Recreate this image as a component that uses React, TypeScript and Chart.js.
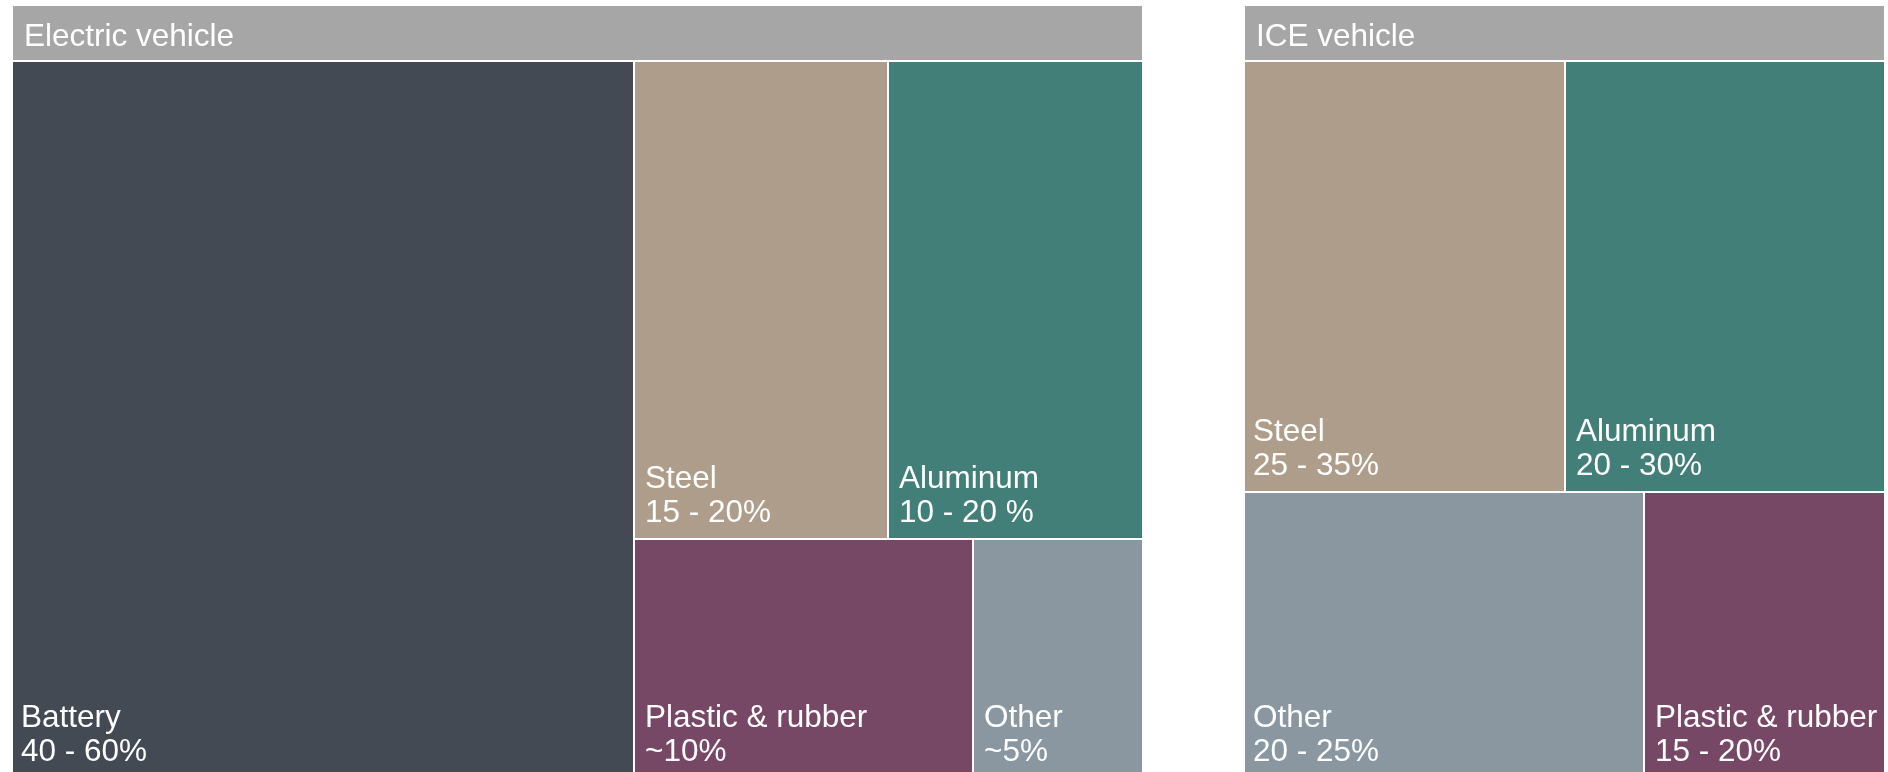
import React, { useEffect, useRef } from 'react';
import { Chart, registerables } from 'chart.js';

Chart.register(...registerables);

// ---------- data ----------
const panelTitles = ['Electric vehicle', 'ICE vehicle'];

const evCategories = ['Battery', 'Steel', 'Aluminum', 'Plastic & rubber', 'Other'];
const evShares = [55, 15, 15, 10, 5];
const evRanges = ['40 - 60%', '15 - 20%', '10 - 20 %', '~10%', '~5%'];

const iceCategories = ['Steel', 'Aluminum', 'Other', 'Plastic & rubber'];
const iceShares = [30, 30, 25, 15];
const iceRanges = ['25 - 35%', '20 - 30%', '20 - 25%', '15 - 20%'];

const categoryColors: Record<string, string> = {
  Battery: '#434A54',
  Steel: '#AE9D8B',
  Aluminum: '#417F78',
  'Plastic & rubber': '#774866',
  Other: '#8A96A0',
};
const headerColor = '#A6A6A6';
const FONT = '"Liberation Sans", Arial, Helvetica, sans-serif';
const FONT_SIZE = 31.5;

// ---------- squarified treemap layout (in normalized units) ----------
type Rect = { x: number; y: number; w: number; h: number };

function squarify(values: number[], W: number, H: number): Rect[] {
  const total = values.reduce((a, b) => a + b, 0);
  const scale = (W * H) / total;
  const areas = values.map((v) => v * scale);
  const order = values.map((_, i) => i).sort((a, b) => values[b] - values[a] || a - b);
  const rects: Rect[] = new Array(values.length);
  let x = 0, y = 0, w = W, h = H;

  const worst = (row: number[], side: number) => {
    const s = row.reduce((a, i) => a + areas[i], 0);
    let mx = -Infinity, mn = Infinity;
    row.forEach((i) => { mx = Math.max(mx, areas[i]); mn = Math.min(mn, areas[i]); });
    return Math.max((side * side * mx) / (s * s), (s * s) / (side * side * mn));
  };
  const layoutRow = (row: number[]) => {
    const s = row.reduce((a, i) => a + areas[i], 0);
    if (w >= h) {
      const cw = s / h;
      let cy = y;
      row.forEach((i) => { const rh = areas[i] / cw; rects[i] = { x, y: cy, w: cw, h: rh }; cy += rh; });
      x += cw; w -= cw;
    } else {
      const rh = s / w;
      let cx = x;
      row.forEach((i) => { const rw = areas[i] / rh; rects[i] = { x: cx, y, w: rw, h: rh }; cx += rw; });
      y += rh; h -= rh;
    }
  };

  let row: number[] = [];
  let k = 0;
  while (k < order.length) {
    const side = Math.min(w, h);
    const idx = order[k];
    if (row.length === 0 || worst([...row, idx], side) <= worst(row, side)) {
      row.push(idx);
      k++;
    } else {
      layoutRow(row);
      row = [];
    }
  }
  if (row.length) layoutRow(row);
  return rects.map((r) => ({ x: r.x / W, y: r.y / H, w: r.w / W, h: r.h / H }));
}

// ---------- plugin drawing treemap cells via the chart's scales ----------
const treemapPlugin = {
  id: 'treemapCells',
  beforeDraw(chart: any) {
    const ctx = chart.ctx;
    const ds = chart.data.datasets[0] as any;
    ctx.save();
    ctx.fillStyle = headerColor;
    ctx.fillRect(0, 0, chart.width, chart.chartArea.top - 2);
    ctx.fillStyle = '#ffffff';
    ctx.font = `${FONT_SIZE}px ${FONT}`;
    ctx.textBaseline = 'alphabetic';
    ctx.textAlign = 'left';
    ctx.fillText(ds.panelTitle, 11, 40);
    ctx.restore();
  },
  afterDatasetsDraw(chart: any) {
    const ctx = chart.ctx;
    const ds = chart.data.datasets[0] as any;
    const area = chart.chartArea;
    const xs = chart.scales.x;
    const ys = chart.scales.y;
    const rects = squarify(ds.shares, area.right - area.left, area.bottom - area.top);
    ctx.save();
    rects.forEach((r: Rect, i: number) => {
      const l = Math.round(xs.getPixelForValue(r.x));
      const rt = Math.round(xs.getPixelForValue(r.x + r.w));
      const t = Math.round(ys.getPixelForValue(r.y));
      const b = Math.round(ys.getPixelForValue(r.y + r.h));
      const il = r.x > 1e-6 ? 1 : 0;
      const ir = r.x + r.w < 1 - 1e-6 ? 1 : 0;
      const it = r.y > 1e-6 ? 1 : 0;
      const ib = r.y + r.h < 1 - 1e-6 ? 1 : 0;
      ctx.fillStyle = categoryColors[ds.categories[i]];
      ctx.fillRect(l + il, t + it, rt - l - il - ir, b - t - it - ib);

      const pad = il ? 11 : 8;
      const avail = rt - l - pad - 6;
      let size = FONT_SIZE;
      ctx.font = `${size}px ${FONT}`;
      const wMax = Math.max(ctx.measureText(ds.categories[i]).width, ctx.measureText(ds.ranges[i]).width);
      if (wMax > avail) {
        size = (size * avail) / wMax;
        ctx.font = `${size}px ${FONT}`;
      }
      ctx.fillStyle = '#ffffff';
      ctx.textAlign = 'left';
      ctx.textBaseline = 'alphabetic';
      ctx.fillText(ds.categories[i], l + pad, b - 51);
      ctx.fillText(ds.ranges[i], l + pad, b - 17);
    });
    ctx.restore();
  },
};

function TreemapPanel(props: {
  title: string; categories: string[]; shares: number[]; ranges: string[];
  left: number; width: number;
}) {
  const ref = useRef<HTMLCanvasElement | null>(null);
  useEffect(() => {
    if (!ref.current) return;
    const chart = new Chart(ref.current, {
      type: 'scatter',
      data: {
        datasets: [
          {
            data: [],
            pointRadius: 0,
            panelTitle: props.title,
            categories: props.categories,
            shares: props.shares,
            ranges: props.ranges,
          } as any,
        ],
      },
      options: {
        responsive: false,
        maintainAspectRatio: false,
        animation: false,
        devicePixelRatio: 1,
        layout: { padding: { top: 56, left: 0, right: 0, bottom: 0 } },
        scales: {
          x: { type: 'linear', min: 0, max: 1, display: false },
          y: { type: 'linear', min: 0, max: 1, reverse: true, display: false },
        },
        plugins: {
          legend: { display: false },
          tooltip: { enabled: false },
          title: { display: false },
        },
      },
      plugins: [treemapPlugin],
    });
    return () => chart.destroy();
  }, []);
  return (
    <canvas
      ref={ref}
      width={props.width}
      height={772}
      style={{ position: 'absolute', left: props.left, top: 6, width: props.width, height: 772, display: 'block' }}
    />
  );
}

export default function App() {
  return (
    <div style={{ position: 'absolute', left: 0, top: 0, width: 1888, height: 772, overflow: 'hidden', background: '#ffffff' }}>
      <TreemapPanel title={panelTitles[0]} categories={evCategories} shares={evShares} ranges={evRanges} left={13} width={1129} />
      <TreemapPanel title={panelTitles[1]} categories={iceCategories} shares={iceShares} ranges={iceRanges} left={1245} width={639} />
    </div>
  );
}
